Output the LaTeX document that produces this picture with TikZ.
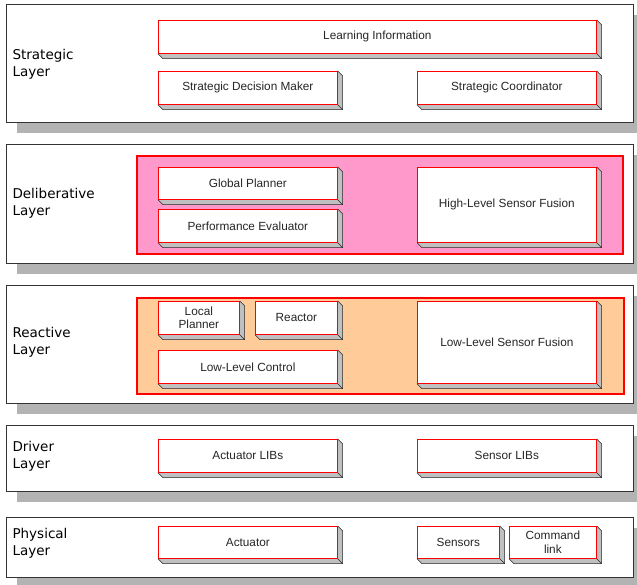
\documentclass[tikz,border=0pt]{standalone}
\usepackage{fontspec}
\setmainfont{Liberation Sans}
\newfontfamily\labelfont{DejaVu Sans}
\usetikzlibrary{calc, shadows}
\definecolor{slabgray}{HTML}{C0C0C0}
\definecolor{shadowgray}{HTML}{B3B3B3}
\definecolor{delibpink}{HTML}{FF99CC}
\definecolor{reactorange}{HTML}{FFCC99}
\tikzset{
  layerbox/.style={draw=black!80, fill=white, line width=0.8pt, anchor=north west, inner sep=0pt,
    drop shadow={shadow xshift=11pt, shadow yshift=-11pt, opacity=1, fill=shadowgray}},
  panel/.style={draw=red, line width=2pt, anchor=north west, inner sep=0pt},
  unit/.style={draw=red, fill=white, line width=0.7pt, anchor=north west, inner sep=1pt,
    align=center, text=black!85, font=\fontsize{11.8}{13.5}\selectfont},
  wideunit/.style={unit, minimum width=179pt, minimum height=33pt},
  layerlabel/.style={anchor=west, align=left, font=\labelfont\fontsize{13.5}{17}\selectfont},
  slabside/.style={draw=black!85, line width=0.5pt, line join=round}
}
% gray sides of a block
\newcommand{\slab}[1]{%
  \fill[slabgray] (#1.south west) -- ++(5,5) -- ($(#1.south east)+(5,5)$) -- ($(#1.north east)+(5,5)$) -- (#1.north east) -- (#1.south east) -- cycle;
  \draw[slabside] (#1.south west) -- ++(5,5) -- ($(#1.south east)+(5,5)$) -- ($(#1.north east)+(5,5)$) -- (#1.north east);
  \draw[slabside] (#1.south east) -- ++(5,5);
  \draw[red, line width=0.7pt] (#1.south west) rectangle (#1.north east);
}

\begin{document}
\begin{tikzpicture}[x=1pt, y=-1pt]
\useasboundingbox (0,0) rectangle (637,585);
%layers
\node[layerbox, minimum width=627pt, minimum height=118pt] (strategic) at (6,4) {};
\node[layerbox, minimum width=627pt, minimum height=119pt] (deliberative) at (6,144) {};
\node[layerbox, minimum width=627pt, minimum height=118pt] (reactive) at (6,285) {};
\node[layerbox, minimum width=627pt, minimum height=66pt] (driver) at (6,425) {};
\node[layerbox, minimum width=627pt, minimum height=60pt] (physical) at (6,517) {};
%layer names
\node[layerlabel] (strategiclbl) at (9,64) {Strategic\\Layer};
\node[layerlabel] (deliberativelbl) at (9,203) {Deliberative\\Layer};
\node[layerlabel] (reactivelbl) at (9,342) {Reactive\\Layer};
\node[layerlabel] (driverlbl) at (9,456) {Driver\\Layer};
\node[layerlabel] (physicallbl) at (9,543) {Physical\\Layer};
%coloured panels
\node[panel, fill=delibpink, minimum width=486pt, minimum height=98pt] (delibpanel) at (136,155) {};
\node[panel, fill=reactorange, minimum width=487pt, minimum height=96pt] (reactpanel) at (136,297) {};
%strategic blocks
\node[unit, minimum width=438pt, minimum height=33pt] (learn) at (158,20) {Learning Information};
\node[wideunit] (sdm) at (158,71) {Strategic Decision Maker};
\node[wideunit] (scoord) at (417,71) {Strategic Coordinator};
%deliberative blocks
\node[wideunit, minimum height=32pt] (gplan) at (158,167) {Global Planner};
\node[wideunit] (peval) at (158,209) {Performance Evaluator};
\node[unit, minimum width=179pt, minimum height=75pt] (hlsf) at (417,167) {High-Level Sensor Fusion};
%reactive blocks
\node[unit, minimum width=81pt, minimum height=33pt] (lplan) at (158,301) {Local\\Planner};
\node[unit, minimum width=82pt, minimum height=33pt] (reactor) at (255,301) {Reactor};
\node[wideunit] (llc) at (158,350) {Low-Level Control};
\node[unit, minimum width=179pt, minimum height=82pt] (llsf) at (417,301) {Low-Level Sensor Fusion};
%driver blocks
\node[wideunit] (alibs) at (158,439) {Actuator LIBs};
\node[wideunit] (slibs) at (417,439) {Sensor LIBs};
%physical blocks
\node[wideunit, minimum height=32pt] (act) at (158,526) {Actuator};
\node[unit, minimum width=82pt, minimum height=32pt] (sens) at (417,526) {Sensors};
\node[unit, minimum width=87pt, minimum height=32pt] (cmd) at (509,526) {Command\\link};
%3d sides
\foreach \b in {learn,sdm,scoord,gplan,peval,hlsf,lplan,reactor,llc,llsf,alibs,slibs,act,sens,cmd}
  \slab{\b};
\end{tikzpicture}
\end{document}
